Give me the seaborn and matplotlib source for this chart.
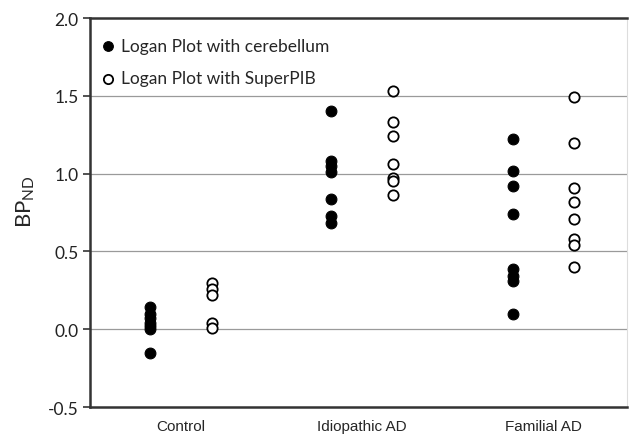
import numpy as np
import pandas as pd
import matplotlib
matplotlib.use("Agg")
import matplotlib.pyplot as plt
import seaborn as sns

# groups on the x axis
groups = ["Control", "Idiopathic AD", "Familial AD"]

# BP_ND values, Logan plot with cerebellum (filled)
cereb_control = [0.14, 0.10, 0.07, 0.04, 0.02, 0.0, -0.15]
cereb_idio = [1.40, 1.08, 1.05, 1.01, 0.84, 0.73, 0.68]
cereb_fam = [1.22, 1.02, 0.92, 0.74, 0.39, 0.34, 0.31, 0.10]

# BP_ND values, Logan plot with SuperPIB (open)
super_control = [0.30, 0.26, 0.22, 0.04, 0.01]
super_idio = [1.53, 1.33, 1.24, 1.06, 0.97, 0.95, 0.86]
super_fam = [1.49, 1.20, 0.91, 0.82, 0.71, 0.58, 0.54, 0.40]

rows = []
for i, (g, vals) in enumerate(zip(groups, [cereb_control, cereb_idio, cereb_fam])):
    for v in vals:
        rows.append({"group": g, "pos": i - 0.17, "bp": v, "method": "cereb"})
for i, (g, vals) in enumerate(zip(groups, [super_control, super_idio, super_fam])):
    for v in vals:
        rows.append({"group": g, "pos": i + 0.17, "bp": v, "method": "super"})
df = pd.DataFrame(rows)

sns.set_style("white")
plt.rcParams["font.family"] = ["Lato", "DejaVu Sans"]
plt.rcParams["mathtext.fontset"] = "custom"
plt.rcParams["mathtext.rm"] = "Lato"

fig = plt.figure(figsize=(6.29, 4.35), dpi=100)
ax = fig.add_axes([0.143, 0.062, 0.854, 0.894])

# light horizontal guide lines
for y in [0.0, 0.5, 1.0, 1.5]:
    ax.axhline(y, color="#9a9a9a", lw=0.9, zorder=0)

sns.scatterplot(data=df[df.method == "cereb"], x="pos", y="bp", color="black",
                edgecolor="black", s=60, linewidth=0.8, ax=ax,
                label="Logan Plot with cerebellum", zorder=3)
sns.scatterplot(data=df[df.method == "super"], x="pos", y="bp", color="white",
                edgecolor="black", s=55, linewidth=1.3, ax=ax,
                label="Logan Plot with SuperPIB", zorder=3)

ax.set_xlim(-0.5, 2.46)
ax.set_ylim(-0.5, 2.0)
ax.set_yticks([-0.5, 0.0, 0.5, 1.0, 1.5, 2.0])
ax.set_yticklabels(["-0.5", "0.0", "0.5", "1.0", "1.5", "2.0"], fontsize=12.5,
                   color="#222222")
ax.set_xticks([0, 1, 2])
ax.set_xticklabels(groups, fontsize=11, family="Liberation Sans")
ax.tick_params(axis="x", length=0, pad=8.5)
ax.tick_params(axis="y", length=5, width=1.2, color="#333333", direction="out", pad=3, left=True)
ax.set_xlabel("")
ax.set_ylabel("BP$_{\\mathrm{ND}}$", fontsize=16)
ax.yaxis.set_label_coords(-0.098, 0.53)

for side in ["left", "bottom", "top"]:
    ax.spines[side].set_color("#333333")
    ax.spines[side].set_linewidth(1.8)
ax.spines["right"].set_color("#dddddd")
ax.spines["right"].set_linewidth(0.8)

leg = ax.legend(loc="upper left", bbox_to_anchor=(-0.014, 0.99), frameon=False,
                fontsize=12.5, labelspacing=0.95, handletextpad=0.15,
                handlelength=1.2, markerscale=0.9)

fig.savefig("out.png", dpi=100)
